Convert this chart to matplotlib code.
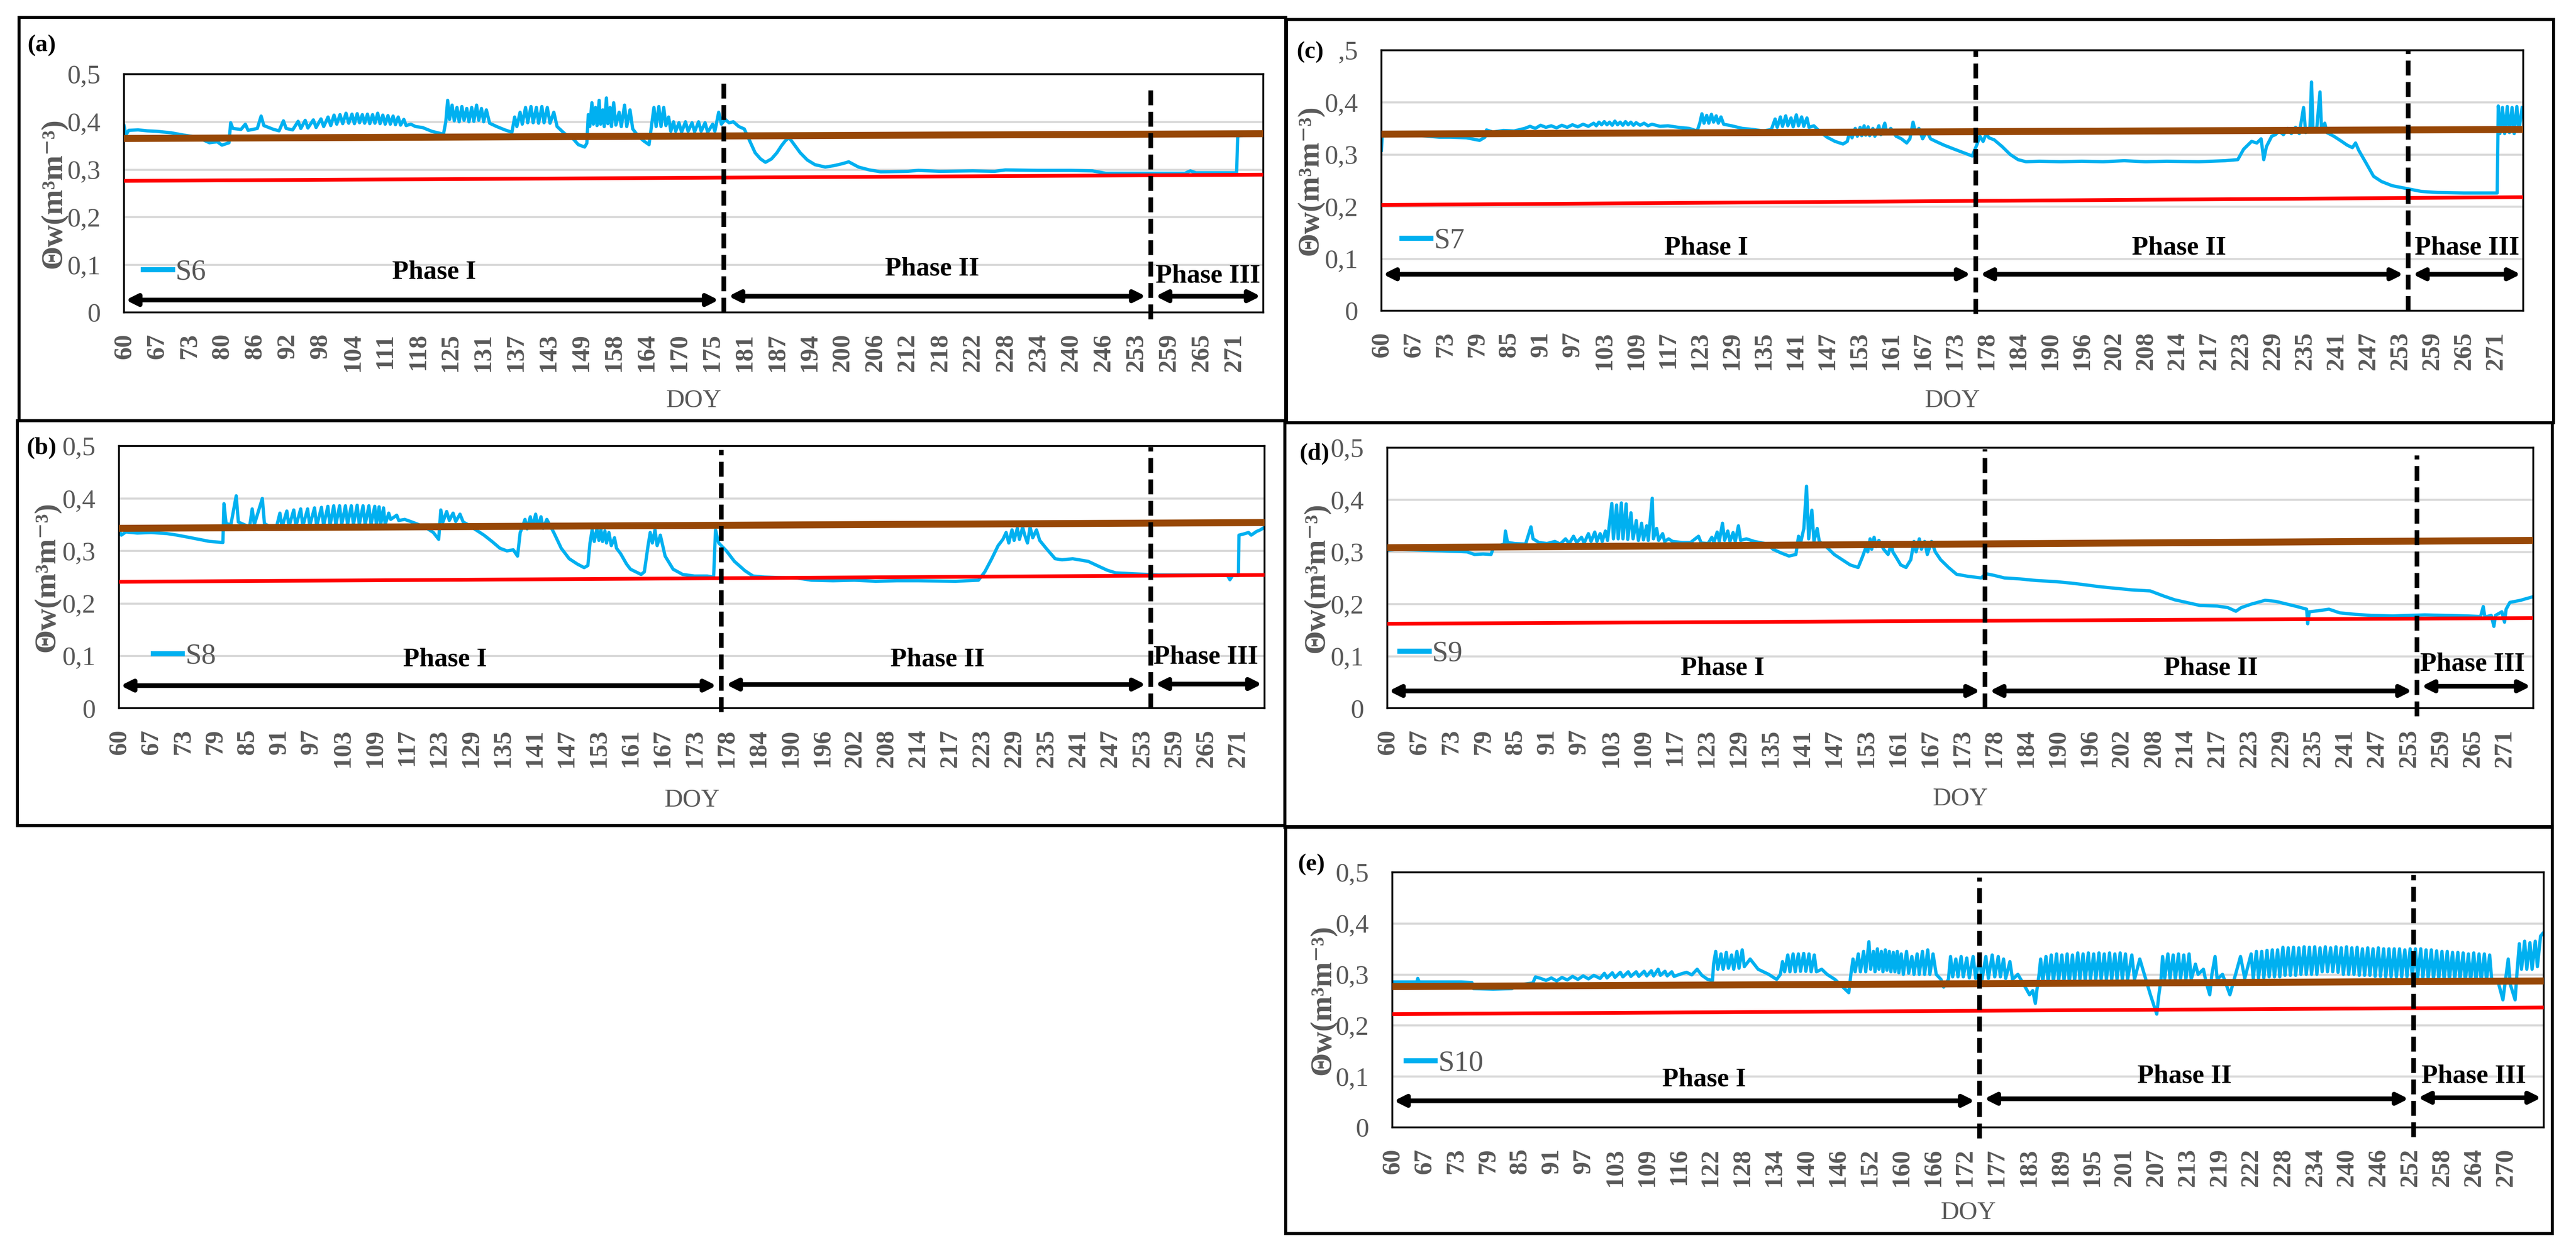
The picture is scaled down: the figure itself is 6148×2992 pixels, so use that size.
import numpy as np
import matplotlib.pyplot as plt
from matplotlib.patches import Rectangle
from matplotlib.lines import Line2D

W, H = 6148, 2992
DPI = 400
SERIF = ['Liberation Serif', 'DejaVu Serif']
BLUE = '#00B0F0'
BROWN = '#974706'
RED = '#FF0000'
GRAY = '#595959'

# category labels of the DOY axes
ticks_a = [60, 67, 73, 80, 86, 92, 98, 104, 111, 118, 125, 131, 137, 143, 149, 158, 164, 170,
           175, 181, 187, 194, 200, 206, 212, 218, 222, 228, 234, 240, 246, 253, 259, 265, 271]
ticks_bcd = [60, 67, 73, 79, 85, 91, 97, 103, 109, 117, 123, 129, 135, 141, 147, 153, 161, 167,
             173, 178, 184, 190, 196, 202, 208, 214, 217, 223, 229, 235, 241, 247, 253, 259, 265, 271]
ticks_e = [60, 67, 73, 79, 85, 91, 97, 103, 109, 116, 122, 128, 134, 140, 146, 152, 160, 166,
           172, 177, 183, 189, 195, 201, 207, 213, 219, 222, 228, 234, 240, 246, 252, 258, 264, 270]

# soil water content series (DOY, m3/m3)
s6 = [(60.0, 0.392), (60.4, 0.372), (61, 0.382), (63, 0.383), (65, 0.381), (67, 0.380), (69.6, 0.377),
      (72, 0.372), (74.5, 0.368), (76, 0.362), (77.3, 0.356), (79, 0.358), (80, 0.351), (81.3, 0.356),
      (81.6, 0.398), (82, 0.386), (83.5, 0.384), (84.3, 0.395), (84.8, 0.382), (86.5, 0.386), (87.2, 0.412),
      (87.7, 0.392), (89.5, 0.384), (90.5, 0.381), (91.3, 0.402), (91.8, 0.386), (93, 0.383), (94, 0.401),
      (94.5, 0.386), (95.3, 0.403), (95.8, 0.387), (96.8, 0.404), (97.3, 0.388), (98.2, 0.406), (98.7, 0.39),
      (99.5, 0.41), (100, 0.392), (100.6, 0.414), (101.1, 0.395), (101.7, 0.415), (102.2, 0.396),
      (102.8, 0.418), (103.3, 0.397), (103.9, 0.416), (104.4, 0.396), (105, 0.417), (105.5, 0.398),
      (106.1, 0.415), (106.6, 0.397), (107.2, 0.416), (107.7, 0.396), (108.3, 0.415), (108.8, 0.397),
      (109.4, 0.418), (109.9, 0.396), (110.5, 0.414), (111, 0.395), (111.6, 0.413), (112.1, 0.395),
      (112.7, 0.412), (113.2, 0.394), (113.8, 0.41), (114.3, 0.393), (115, 0.405), (115.5, 0.392),
      (116.5, 0.395), (117.5, 0.39), (119, 0.388), (121, 0.38), (123.5, 0.374), (124, 0.40), (124.4, 0.445),
      (124.8, 0.405), (125.3, 0.435), (125.7, 0.402), (126.2, 0.43), (126.6, 0.40), (127.1, 0.432),
      (127.5, 0.403), (128, 0.428), (128.4, 0.40), (128.9, 0.43), (129.3, 0.401), (129.8, 0.435),
      (130.2, 0.403), (130.7, 0.428), (131.1, 0.40), (131.6, 0.425), (132.2, 0.397), (133.5, 0.39),
      (135, 0.383), (136.3, 0.378), (136.8, 0.41), (137.2, 0.39), (137.8, 0.42), (138.2, 0.395),
      (138.8, 0.43), (139.2, 0.398), (139.8, 0.432), (140.2, 0.398), (140.8, 0.43), (141.2, 0.397),
      (141.8, 0.432), (142.2, 0.398), (142.8, 0.43), (143.3, 0.397), (144, 0.42), (144.6, 0.39),
      (146, 0.375), (147.5, 0.365), (148.5, 0.352), (150, 0.347), (150.6, 0.355), (151, 0.415),
      (151.4, 0.39), (152, 0.44), (152.4, 0.395), (153, 0.43), (153.4, 0.392), (154, 0.445), (154.4, 0.395),
      (155, 0.425), (155.4, 0.39), (156, 0.45), (156.4, 0.396), (157, 0.43), (157.4, 0.39), (158, 0.44),
      (158.4, 0.393), (159, 0.42), (159.4, 0.39), (160, 0.435), (160.4, 0.39), (161, 0.425), (161.5, 0.385),
      (162.5, 0.37), (163.5, 0.36), (164.5, 0.352), (165, 0.395), (165.4, 0.43), (165.8, 0.39),
      (166.3, 0.432), (166.7, 0.39), (167.2, 0.43), (167.6, 0.392), (168.1, 0.41), (168.5, 0.38),
      (169, 0.40), (169.4, 0.38), (170, 0.398), (170.4, 0.378), (171, 0.40), (171.4, 0.38), (172, 0.398),
      (172.4, 0.379), (173, 0.40), (173.4, 0.38), (174, 0.398), (174.4, 0.378), (175.2, 0.395),
      (175.6, 0.38), (176.3, 0.42), (176.8, 0.395), (177.5, 0.405), (178.2, 0.398), (179, 0.40),
      (180, 0.39), (181, 0.385), (182, 0.36), (183, 0.335), (184, 0.322), (184.9, 0.315), (186, 0.322),
      (187, 0.335), (188, 0.35), (188.8, 0.36), (189.6, 0.367), (190.5, 0.355), (192, 0.335),
      (193.5, 0.32), (195, 0.31), (196.9, 0.305), (198.5, 0.308), (200, 0.312), (201.2, 0.316),
      (203, 0.305), (205, 0.299), (207.1, 0.295), (212, 0.296), (214, 0.298), (218, 0.296), (222, 0.297),
      (226, 0.296), (228, 0.299), (234, 0.298), (240, 0.298), (244, 0.297), (246.5, 0.292), (255, 0.292),
      (262, 0.292), (263, 0.297), (264, 0.293), (271.5, 0.293), (271.7, 0.37), (273, 0.372),
      (274, 0.375), (275, 0.373), (276.4, 0.378)]

s7 = [(60.0, 0.308), (60.2, 0.342), (61, 0.336), (63, 0.338), (65, 0.336), (67, 0.337), (70, 0.335),
      (71.9, 0.333), (74, 0.333), (77, 0.332), (79.5, 0.327), (80.5, 0.333), (80.8, 0.347), (82, 0.343),
      (84, 0.346), (86, 0.345), (88, 0.35), (89, 0.354), (90, 0.35), (91, 0.356), (92, 0.352), (93, 0.355),
      (94, 0.351), (95, 0.356), (96, 0.352), (97, 0.357), (98, 0.353), (99, 0.358), (100, 0.354),
      (101, 0.36), (101.5, 0.355), (102, 0.362), (102.5, 0.357), (103, 0.363), (103.5, 0.357),
      (104, 0.362), (104.5, 0.356), (105, 0.364), (105.5, 0.357), (106, 0.362), (106.5, 0.356),
      (107, 0.363), (107.5, 0.357), (108, 0.362), (108.5, 0.356), (109, 0.361), (110, 0.356), (111, 0.36),
      (112, 0.355), (113, 0.358), (115, 0.354), (117, 0.355), (119, 0.352), (121, 0.35), (122.5, 0.345),
      (123, 0.36), (123.4, 0.378), (123.8, 0.36), (124.3, 0.375), (124.7, 0.36), (125.2, 0.377),
      (125.6, 0.362), (126.1, 0.374), (126.5, 0.36), (127, 0.372), (127.5, 0.358), (129, 0.355),
      (131, 0.35), (133, 0.348), (135, 0.345), (136.5, 0.348), (137.2, 0.368), (137.6, 0.352),
      (138.2, 0.372), (138.6, 0.354), (139.2, 0.374), (139.6, 0.355), (140.2, 0.37), (140.6, 0.353),
      (141.2, 0.376), (141.6, 0.355), (142.2, 0.372), (142.6, 0.354), (143.2, 0.37), (143.6, 0.352),
      (144.5, 0.355), (145.5, 0.345), (147, 0.333), (148.5, 0.325), (150, 0.32), (150.8, 0.325),
      (151.3, 0.345), (151.7, 0.332), (152.3, 0.35), (152.7, 0.335), (153.3, 0.352), (153.7, 0.336),
      (154.3, 0.355), (154.7, 0.337), (155.3, 0.353), (155.7, 0.336), (156.5, 0.35), (157, 0.335),
      (158, 0.355), (158.5, 0.338), (159.5, 0.36), (160, 0.34), (161, 0.35), (162, 0.335), (163, 0.33),
      (164, 0.322), (164.6, 0.33), (165.2, 0.362), (165.7, 0.34), (166.3, 0.35), (167, 0.33),
      (167.8, 0.345), (168.5, 0.33), (169.5, 0.325), (171, 0.318), (173, 0.31), (174.5, 0.303),
      (175.8, 0.297), (176.5, 0.318), (177, 0.335), (177.5, 0.325), (178, 0.34), (178.5, 0.332),
      (179.5, 0.328), (181, 0.315), (182.5, 0.3), (184, 0.29), (185.5, 0.286), (188, 0.287), (192, 0.286),
      (196, 0.287), (200, 0.286), (204, 0.288), (208, 0.286), (212, 0.287), (216, 0.286), (220, 0.288),
      (222.4, 0.29), (223.5, 0.31), (225, 0.325), (226, 0.322), (226.8, 0.33), (227.3, 0.29),
      (227.8, 0.315), (228.8, 0.335), (229.5, 0.338), (230.2, 0.345), (231, 0.338), (231.8, 0.35),
      (232.5, 0.34), (233.3, 0.352), (234, 0.34), (234.8, 0.39), (235.2, 0.342), (236, 0.35),
      (236.3, 0.439), (236.6, 0.345), (237.3, 0.352), (237.9, 0.42), (238.2, 0.345), (238.8, 0.36),
      (239.2, 0.342), (240.5, 0.335), (242, 0.325), (243, 0.318), (244, 0.313), (244.6, 0.322),
      (245.2, 0.308), (246.5, 0.285), (248, 0.258), (249.5, 0.248), (251.5, 0.24), (254.5, 0.234),
      (257, 0.229), (260, 0.227), (265, 0.226), (271.3, 0.226), (271.5, 0.393), (271.8, 0.34),
      (272.3, 0.39), (272.7, 0.34), (273.2, 0.392), (273.6, 0.342), (274.1, 0.39), (274.5, 0.34),
      (275, 0.392), (275.4, 0.345), (276, 0.39)]

s8 = [(60, 0.34), (60.5, 0.33), (61.5, 0.336), (64, 0.334), (67, 0.335), (70, 0.333), (71.9, 0.33),
      (74, 0.326), (76, 0.322), (78, 0.318), (80.5, 0.316), (80.7, 0.39), (81.1, 0.352), (82, 0.35),
      (83, 0.405), (83.4, 0.355), (84.5, 0.35), (85.5, 0.345), (86, 0.38), (86.4, 0.35), (87.9, 0.40),
      (88.3, 0.352), (89.5, 0.345), (90.5, 0.343), (91.2, 0.372), (91.6, 0.345), (92.5, 0.376),
      (92.9, 0.346), (93.8, 0.378), (94.2, 0.347), (95.1, 0.38), (95.5, 0.347), (96.4, 0.38), (96.8, 0.348),
      (97.7, 0.382), (98.1, 0.347), (99, 0.383), (99.4, 0.348), (100.2, 0.385), (100.6, 0.348),
      (101.3, 0.386), (101.7, 0.349), (102.4, 0.386), (102.8, 0.35), (103.5, 0.386), (103.9, 0.35),
      (104.6, 0.386), (105, 0.35), (105.7, 0.387), (106.1, 0.35), (106.8, 0.386), (107.2, 0.35),
      (107.9, 0.386), (108.3, 0.35), (109, 0.385), (109.4, 0.35), (110.1, 0.384), (110.5, 0.35),
      (111.2, 0.382), (111.6, 0.35), (112.5, 0.372), (113, 0.36), (114.5, 0.368), (115, 0.358),
      (116.5, 0.36), (118, 0.355), (120.5, 0.345), (122, 0.335), (123, 0.322), (123.4, 0.378),
      (123.8, 0.355), (124.5, 0.375), (125, 0.358), (125.7, 0.372), (126.2, 0.356), (127, 0.37),
      (127.6, 0.355), (128.5, 0.35), (130, 0.34), (131.5, 0.33), (133, 0.318), (134.5, 0.305),
      (135.8, 0.3), (137, 0.302), (137.8, 0.29), (138.3, 0.335), (138.7, 0.345), (139.2, 0.36),
      (139.6, 0.342), (140.2, 0.365), (140.6, 0.345), (141.2, 0.37), (141.6, 0.345), (142.2, 0.365),
      (142.6, 0.343), (143.3, 0.36), (144.6, 0.335), (146, 0.305), (147.5, 0.285), (149, 0.275),
      (150.3, 0.268), (151, 0.272), (151.4, 0.315), (151.8, 0.34), (152.2, 0.318), (152.7, 0.342),
      (153.1, 0.32), (153.6, 0.34), (154, 0.318), (154.6, 0.338), (155, 0.315), (155.6, 0.335),
      (156.2, 0.31), (157, 0.325), (157.5, 0.305), (158.5, 0.295), (160, 0.275), (161, 0.265),
      (163, 0.255), (163.6, 0.26), (164.3, 0.31), (164.7, 0.335), (165.1, 0.315), (165.6, 0.34),
      (166, 0.31), (166.6, 0.33), (167.5, 0.29), (169, 0.265), (170.8, 0.255), (173, 0.252),
      (175, 0.252), (176, 0.25), (176.3, 0.34), (176.8, 0.315), (178, 0.3), (179.5, 0.28),
      (181.5, 0.262), (183, 0.252), (185.1, 0.25), (188, 0.249), (191.4, 0.248), (194, 0.244),
      (198, 0.243), (202, 0.244), (206, 0.242), (210, 0.243), (214, 0.243), (218, 0.242), (222.3, 0.244),
      (223.5, 0.26), (224.8, 0.285), (226, 0.31), (226.9, 0.322), (227.5, 0.335), (228, 0.315),
      (228.6, 0.34), (229, 0.32), (229.6, 0.343), (230, 0.322), (230.6, 0.345), (231, 0.33),
      (231.5, 0.315), (232, 0.345), (232.5, 0.325), (233.2, 0.34), (233.8, 0.32), (235, 0.305),
      (236.7, 0.285), (238, 0.283), (240, 0.285), (242.9, 0.28), (245, 0.27), (246.5, 0.263),
      (248.1, 0.258), (252, 0.256), (256, 0.254), (260, 0.254), (264, 0.254), (269, 0.254),
      (269.5, 0.245), (270, 0.253), (271.1, 0.253), (271.2, 0.33), (272, 0.332), (273, 0.335),
      (273.5, 0.33), (274.5, 0.337), (275.2, 0.34), (276, 0.345)]

s9 = [(60, 0.303), (62, 0.305), (65, 0.304), (68, 0.303), (71.3, 0.302), (74, 0.301), (76, 0.3),
      (77.4, 0.295), (79, 0.296), (80.5, 0.295), (81, 0.31), (82, 0.312), (83, 0.315), (83.2, 0.34),
      (83.6, 0.318), (85, 0.316), (87, 0.315), (88, 0.348), (88.4, 0.325), (89.5, 0.318), (91, 0.316),
      (92.5, 0.32), (93.5, 0.315), (94.5, 0.325), (95.2, 0.316), (96, 0.33), (96.6, 0.318), (97.5, 0.328),
      (98, 0.317), (98.8, 0.335), (99.3, 0.32), (100, 0.338), (100.4, 0.32), (101, 0.335), (101.4, 0.32),
      (102, 0.34), (102.4, 0.322), (103.2, 0.393), (103.5, 0.325), (104.1, 0.39), (104.4, 0.325),
      (105, 0.394), (105.3, 0.325), (105.9, 0.392), (106.2, 0.324), (106.8, 0.375), (107.2, 0.325),
      (107.8, 0.36), (108.2, 0.322), (108.8, 0.355), (109.2, 0.323), (110, 0.35), (110.4, 0.322),
      (111.4, 0.403), (111.7, 0.325), (112.5, 0.345), (113, 0.322), (114, 0.335), (114.5, 0.32),
      (115.5, 0.325), (116.5, 0.32), (118.4, 0.318), (120, 0.318), (121.5, 0.33), (122, 0.317),
      (123.3, 0.316), (124, 0.328), (124.4, 0.318), (125, 0.338), (125.4, 0.32), (126, 0.355),
      (126.4, 0.322), (127, 0.34), (127.4, 0.32), (128, 0.337), (128.4, 0.32), (129, 0.35), (129.4, 0.322),
      (130.5, 0.325), (132, 0.32), (134.5, 0.315), (135.5, 0.305), (137, 0.298), (138.5, 0.292),
      (139.8, 0.295), (140.3, 0.33), (140.7, 0.318), (141.3, 0.345), (141.8, 0.426), (142.2, 0.325),
      (142.8, 0.38), (143.2, 0.32), (143.8, 0.345), (144.2, 0.32), (145.5, 0.31), (147, 0.295),
      (148.5, 0.285), (150, 0.275), (151.5, 0.27), (152.3, 0.29), (153, 0.31), (153.4, 0.3), (154, 0.325),
      (154.4, 0.305), (155, 0.328), (155.5, 0.31), (156.2, 0.322), (157.4, 0.305), (158.5, 0.295),
      (159.3, 0.315), (159.7, 0.3), (160.5, 0.29), (161.5, 0.275), (162.5, 0.27), (163.4, 0.285),
      (164, 0.32), (164.4, 0.3), (165, 0.325), (165.4, 0.305), (166, 0.32), (166.5, 0.295), (167.3, 0.32),
      (168, 0.3), (169, 0.285), (170.5, 0.27), (172, 0.257), (174, 0.253), (176, 0.25), (176.8, 0.258),
      (178, 0.255), (180, 0.25), (183, 0.248), (186, 0.245), (189.5, 0.243), (192.6, 0.24), (195, 0.237),
      (198, 0.233), (201, 0.23), (204, 0.227), (207.4, 0.225), (210, 0.215), (212, 0.208), (215.4, 0.197),
      (217, 0.196), (219, 0.193), (220.5, 0.186), (221.5, 0.193), (223.5, 0.2), (226, 0.207), (228, 0.205),
      (230, 0.2), (232, 0.195), (233.8, 0.19), (234, 0.162), (234.3, 0.185), (236, 0.187), (238, 0.19),
      (240, 0.183), (243, 0.18), (246, 0.178), (250, 0.177), (253, 0.178), (256, 0.179), (260, 0.178),
      (264, 0.177), (266.5, 0.176), (267, 0.195), (267.3, 0.175), (268.5, 0.178), (269, 0.157),
      (269.3, 0.178), (270.5, 0.185), (271, 0.165), (271.3, 0.19), (272, 0.203), (273, 0.205),
      (274, 0.207), (275, 0.21), (276.4, 0.214)]

s10 = [(60, 0.285), (63, 0.285), (65.4, 0.285), (65.6, 0.292), (65.9, 0.285), (70, 0.285), (74, 0.285),
       (76, 0.284), (76.3, 0.272), (80, 0.271), (83.6, 0.272), (84, 0.28), (86, 0.281), (87.5, 0.283),
       (88, 0.295), (89, 0.292), (90, 0.288), (91, 0.293), (92, 0.287), (93, 0.294), (94, 0.289),
       (95, 0.296), (96, 0.29), (97, 0.297), (98, 0.291), (99, 0.298), (100.2, 0.292), (101, 0.302),
       (101.5, 0.293), (102.5, 0.303), (103, 0.294), (104, 0.304), (104.5, 0.295), (105.5, 0.305),
       (106, 0.296), (107, 0.305), (107.5, 0.296), (108.5, 0.306), (109, 0.297), (110, 0.307),
       (110.5, 0.297), (111.5, 0.31), (112, 0.298), (113, 0.306), (113.5, 0.297), (114.5, 0.305),
       (115, 0.296), (116.5, 0.301), (117.5, 0.304), (118.5, 0.299), (119.5, 0.31), (120.4, 0.298),
       (121.5, 0.29), (122.4, 0.288), (122.6, 0.32), (123, 0.345), (123.4, 0.31), (124, 0.34),
       (124.4, 0.31), (125, 0.343), (125.4, 0.312), (126, 0.338), (126.4, 0.31), (127, 0.345),
       (127.4, 0.312), (128, 0.348), (128.4, 0.315), (129.5, 0.33), (131, 0.31), (133, 0.3),
       (134.5, 0.29), (135.2, 0.3), (135.6, 0.325), (136, 0.305), (136.6, 0.338), (137, 0.305),
       (137.6, 0.34), (138, 0.305), (138.6, 0.34), (139, 0.306), (139.6, 0.341), (140, 0.306),
       (140.6, 0.34), (141, 0.305), (141.6, 0.338), (142, 0.305), (143, 0.31), (144, 0.3), (145.5, 0.29),
       (147, 0.275), (148.1, 0.264), (148.5, 0.3), (148.9, 0.33), (149.3, 0.305), (149.9, 0.34),
       (150.3, 0.305), (150.9, 0.345), (151.3, 0.305), (151.9, 0.364), (152.3, 0.31), (153, 0.345),
       (153.4, 0.305), (154, 0.35), (154.4, 0.31), (155, 0.345), (155.4, 0.305), (156, 0.348),
       (156.4, 0.308), (157, 0.345), (157.4, 0.305), (158, 0.343), (158.4, 0.305), (159, 0.345),
       (159.4, 0.303), (160, 0.34), (160.4, 0.3), (161, 0.345), (161.4, 0.302), (162, 0.335),
       (162.4, 0.3), (163, 0.34), (163.4, 0.3), (164, 0.345), (164.4, 0.3), (165, 0.348), (165.4, 0.3),
       (166, 0.34), (166.6, 0.3), (167.5, 0.29), (168, 0.275), (168.9, 0.29), (169.3, 0.335),
       (169.7, 0.295), (170.3, 0.33), (170.7, 0.295), (171.3, 0.335), (171.7, 0.295), (172.3, 0.332),
       (172.7, 0.293), (173.3, 0.335), (173.7, 0.292), (174.3, 0.33), (174.7, 0.29), (175.3, 0.335),
       (175.7, 0.292), (176.3, 0.338), (176.7, 0.295), (177.3, 0.335), (177.7, 0.295), (178.3, 0.33),
       (178.7, 0.292), (179.5, 0.325), (180, 0.29), (181, 0.3), (182.4, 0.275), (183.2, 0.26),
       (183.8, 0.268), (184.3, 0.243), (184.6, 0.27), (185, 0.3), (185.3, 0.33), (185.7, 0.285),
       (186.3, 0.335), (186.7, 0.285), (187.3, 0.338), (187.7, 0.285), (188.3, 0.34), (188.7, 0.288),
       (189.3, 0.338), (189.7, 0.287), (190.3, 0.34), (190.7, 0.285), (191.3, 0.338), (191.7, 0.288),
       (192.3, 0.342), (192.7, 0.29), (193.3, 0.34), (193.7, 0.288), (194.3, 0.342), (194.7, 0.29),
       (195.3, 0.34), (195.7, 0.29), (196.3, 0.342), (196.7, 0.29), (197.3, 0.34), (197.7, 0.29),
       (198.3, 0.342), (198.7, 0.29), (199.3, 0.34), (199.7, 0.29), (200.3, 0.342), (200.7, 0.29),
       (201.3, 0.34), (201.7, 0.29), (202.5, 0.338), (203, 0.29), (204, 0.33), (205, 0.295), (206, 0.26),
       (207.2, 0.222), (207.6, 0.26), (208, 0.29), (208.3, 0.335), (208.7, 0.292), (209.3, 0.34),
       (209.7, 0.292), (210.3, 0.338), (210.7, 0.29), (211.3, 0.34), (211.7, 0.292), (212.3, 0.338),
       (212.7, 0.29), (213.3, 0.34), (213.7, 0.29), (214.5, 0.32), (215, 0.3), (216, 0.31), (216.5, 0.285),
       (217.2, 0.26), (217.6, 0.3), (218.2, 0.335), (218.6, 0.29), (219.3, 0.3), (220, 0.26),
       (220.4, 0.29), (221, 0.335), (221.4, 0.292), (222, 0.34), (222.4, 0.292), (223, 0.345),
       (223.4, 0.293), (224, 0.345), (224.4, 0.293), (225, 0.347), (225.4, 0.295), (226, 0.348),
       (226.4, 0.295), (227, 0.348), (227.4, 0.295), (228, 0.353), (228.4, 0.298), (229, 0.352),
       (229.4, 0.298), (230, 0.353), (230.4, 0.298), (231, 0.352), (231.4, 0.3), (232, 0.354),
       (232.4, 0.3), (233, 0.353), (233.4, 0.3), (234, 0.354), (234.4, 0.3), (235, 0.352), (235.4, 0.305),
       (236, 0.354), (236.4, 0.305), (237, 0.352), (237.4, 0.305), (238, 0.354), (238.4, 0.304),
       (239, 0.352), (239.4, 0.3), (240, 0.354), (240.4, 0.3), (241, 0.352), (241.4, 0.3), (242, 0.353),
       (242.4, 0.298), (243, 0.35), (243.4, 0.298), (244, 0.352), (244.4, 0.298), (245, 0.35),
       (245.4, 0.296), (246, 0.352), (246.4, 0.296), (247, 0.35), (247.4, 0.295), (248, 0.35),
       (248.4, 0.295), (249, 0.35), (249.4, 0.295), (250, 0.35), (250.4, 0.295), (251, 0.348),
       (251.4, 0.295), (252, 0.35), (252.4, 0.295), (253, 0.35), (253.4, 0.293), (254, 0.35),
       (254.4, 0.293), (255, 0.348), (255.4, 0.292), (256, 0.348), (256.4, 0.292), (257, 0.346),
       (257.4, 0.292), (258, 0.345), (258.4, 0.29), (259, 0.345), (259.4, 0.29), (260, 0.343),
       (260.4, 0.29), (261, 0.343), (261.4, 0.29), (262, 0.342), (262.4, 0.288), (263, 0.34),
       (263.4, 0.288), (264, 0.342), (264.4, 0.288), (265, 0.34), (265.4, 0.288), (266, 0.34),
       (266.4, 0.288), (267, 0.338), (267.4, 0.288), (268.6, 0.285), (269.5, 0.25), (270, 0.29),
       (270.5, 0.33), (270.9, 0.28), (271.8, 0.25), (272.2, 0.31), (272.6, 0.36), (273, 0.31),
       (273.6, 0.365), (274, 0.31), (274.6, 0.362), (275, 0.31), (275.6, 0.365), (276, 0.315),
       (276.6, 0.375), (277, 0.38)]

# field capacity (brown) and wilting point (red) lines, start/end values
fc_a, wp_a = [0.365, 0.375], [0.276, 0.289]
fc_b, wp_b = [0.343, 0.354], [0.241, 0.254]
fc_c, wp_c = [0.339, 0.348], [0.203, 0.218]
fc_d, wp_d = [0.308, 0.322], [0.162, 0.173]
fc_e, wp_e = [0.276, 0.287], [0.222, 0.235]

# phase boundaries (DOY)
phase_a = [177.2, 255.7]
phase_b = [177.2, 254.6]
phase_c = [176.3, 254.5]
phase_d = [176.6, 254.5]
phase_e = [174.3, 252.6]

end_doy = {'a': 276.4, 'b': 276.0, 'c': 276.2, 'd': 276.4, 'e': 277.2}

yvals = [0, 0.1, 0.2, 0.3, 0.4, 0.5]
ylabels = ['0', '0,1', '0,2', '0,3', '0,4', '0,5']
ylabels_c = ['0', '0,1', '0,2', '0,3', '0,4', ',5']


def to_pos(doy, ticks):
    step = ticks[-1] - ticks[-2]
    t = list(ticks) + [ticks[-1] + step, ticks[-1] + 2 * step]
    return np.interp(doy, t, np.arange(len(t)))


def fx(x):
    return x / W


def fy(y):
    return 1 - y / H


# layout in pixels of the final image
panels = [
    dict(tag='(a)', name='S6', data=s6, ticks=ticks_a, fc=fc_a, wp=wp_a, phase=phase_a, end=end_doy['a'],
         ylab=ylabels, axpx=(296, 177, 3015, 746), box=(45, 41, 3068, 1004), tagxy=(100, 108),
         ylx=128, doyy=957, leg=(0.017, 0.166), ptx=[9.5, 24.75, 33.2], pty=[0.084, 0.091, 0.076],
         ary=[0.026, 0.034, 0.034], dash=[(0.975, 0.0), (0.958, -0.028)]),
    dict(tag='(b)', name='S8', data=s8, ticks=ticks_bcd, fc=fc_b, wp=wp_b, phase=phase_b, end=end_doy['b'],
         ylab=ylabels, axpx=(284, 1065, 3018, 1691), box=(41, 1004, 3066, 1971), tagxy=(99, 1070),
         ylx=112, doyy=1911, leg=(0.030, 0.196), ptx=[10.2, 25.6, 34.0], pty=[0.092, 0.092, 0.097],
         ary=[0.043, 0.045, 0.046], dash=[(0.986, -0.014), (0.997, 0.0)]),
    dict(tag='(c)', name='S7', data=s7, ticks=ticks_bcd, fc=fc_c, wp=wp_c, phase=phase_c, end=end_doy['c'],
         ylab=ylabels_c, axpx=(3297, 120, 6022, 742), box=(3070, 46, 6094, 1009), tagxy=(3127, 124),
         ylx=3127, doyy=957, leg=(0.018, 0.266), ptx=[10.2, 25.06, 34.1], pty=[0.12, 0.12, 0.12],
         ary=[0.07, 0.07, 0.07], dash=[(0.998, -0.011), (1.0, 0.0)]),
    dict(tag='(d)', name='S9', data=s9, ticks=ticks_bcd, fc=fc_d, wp=wp_d, phase=phase_d, end=end_doy['d'],
         ylab=ylabels, axpx=(3311, 1069, 6046, 1691), box=(3066, 1009, 6091, 1975), tagxy=(3137, 1084),
         ylx=3142, doyy=1908, leg=(0.011, 0.206), ptx=[10.5, 25.8, 34.0], pty=[0.076, 0.076, 0.084],
         ary=[0.033, 0.033, 0.042], dash=[(0.995, 0.0), (0.971, -0.03)]),
    dict(tag='(e)', name='S10', data=s10, ticks=ticks_e, fc=fc_e, wp=wp_e, phase=phase_e, end=end_doy['e'],
         ylab=ylabels, axpx=(3323, 2083, 6071, 2692), box=(3068, 1973, 6091, 2945), tagxy=(3130, 2064),
         ylx=3157, doyy=2896, leg=(0.012, 0.248), ptx=[9.8, 24.9, 34.0], pty=[0.093, 0.10, 0.10],
         ary=[0.052, 0.056, 0.058], dash=[(0.98, -0.043), (0.99, -0.038)]),
]

fig = plt.figure(figsize=(W / DPI, H / DPI), dpi=DPI)
fig.patch.set_facecolor('white')

for p in panels:
    x0, y0, x1, y1 = p['axpx']
    ax = fig.add_axes([fx(x0), fy(y1), (x1 - x0) / W, (y1 - y0) / H])
    ticks = p['ticks']
    xmax = to_pos(p['end'], ticks)
    ax.set_xlim(0, xmax)
    ax.set_ylim(0, 0.5)

    doy = np.array([d for d, v in p['data']])
    val = np.array([v for d, v in p['data']])
    ax.plot(to_pos(doy, ticks), val, color=BLUE, lw=1.4, zorder=2)

    ends = to_pos([ticks[0], p['end']], ticks)
    ax.plot(ends, p['wp'], color=RED, lw=1.6, zorder=3, solid_capstyle='butt')
    ax.plot(ends, p['fc'], color=BROWN, lw=3.0, zorder=3, solid_capstyle='butt')

    # phase separators
    bpos = to_pos(p['phase'], ticks)
    for bx, (ytop, ybot) in zip(bpos, p['dash']):
        ax.plot([bx, bx], [ybot, ytop], transform=ax.get_xaxis_transform(), color='black',
                lw=2.0, dashes=(3.2, 1.4), clip_on=False, zorder=4)

    # phase arrows
    gap = 0.15
    spans = [(0.05, bpos[0] - gap), (bpos[0] + gap, bpos[1] - gap), (bpos[1] + gap, xmax - 0.08)]
    for (xa, xb), ya in zip(spans, p['ary']):
        ax.annotate('', xy=(xb, ya), xytext=(xa, ya),
                    arrowprops=dict(arrowstyle='<|-|>', color='black', lw=2.0,
                                    mutation_scale=10, shrinkA=0, shrinkB=0), zorder=5)
    for txt, tx, ty in zip(['Phase I', 'Phase II', 'Phase III'], p['ptx'], p['pty']):
        ax.text(tx, ty, txt, ha='center', va='center', fontsize=11.5, fontweight='bold',
                family=SERIF, color='black', zorder=6)

    # axes styling
    ax.set_yticks(yvals)
    ax.set_yticklabels(p['ylab'], family=SERIF, fontsize=11.5, color=GRAY)
    ax.set_xticks(np.arange(len(ticks)))
    ax.set_xticklabels([str(t) for t in ticks], rotation=90, family=SERIF, fontsize=11,
                       fontweight='bold', color=GRAY)
    ax.tick_params(axis='both', length=0)
    ax.tick_params(axis='y', pad=10)
    ax.tick_params(axis='x', pad=9)
    ax.yaxis.grid(True, color='#D9D9D9', lw=0.9)
    ax.set_axisbelow(True)
    for s in ax.spines.values():
        s.set_color('black')
        s.set_linewidth(0.8)

    ax.legend(handles=[Line2D([], [], color=BLUE, lw=2.2)], labels=[p['name']],
              loc='center left', bbox_to_anchor=p['leg'], frameon=False,
              handlelength=1.0, handletextpad=0.1, borderpad=0, borderaxespad=0,
              prop=dict(family=SERIF, size=12.5), labelcolor=GRAY)

    # figure-level decorations
    bx0, by0, bx1, by1 = p['box']
    fig.add_artist(Rectangle((fx(bx0), fy(by1)), (bx1 - bx0) / W, (by1 - by0) / H,
                             transform=fig.transFigure, fill=False, ec='black', lw=1.3))
    fig.text(fx(p['tagxy'][0]), fy(p['tagxy'][1]), p['tag'], ha='center', va='center',
             family=SERIF, fontsize=10.5, fontweight='bold', color='black')
    fig.text(fx(p['ylx']), fy((y0 + y1) / 2), 'Θw(m³m⁻³)', rotation=90, ha='center', va='center',
             family=SERIF, fontsize=13, fontweight='bold', color=GRAY)
    fig.text(fx((x0 + x1) / 2), fy(p['doyy']), 'DOY', ha='center', va='center',
             family=SERIF, fontsize=11, color=GRAY)

fig.savefig('out.png', dpi=DPI, facecolor='white')
